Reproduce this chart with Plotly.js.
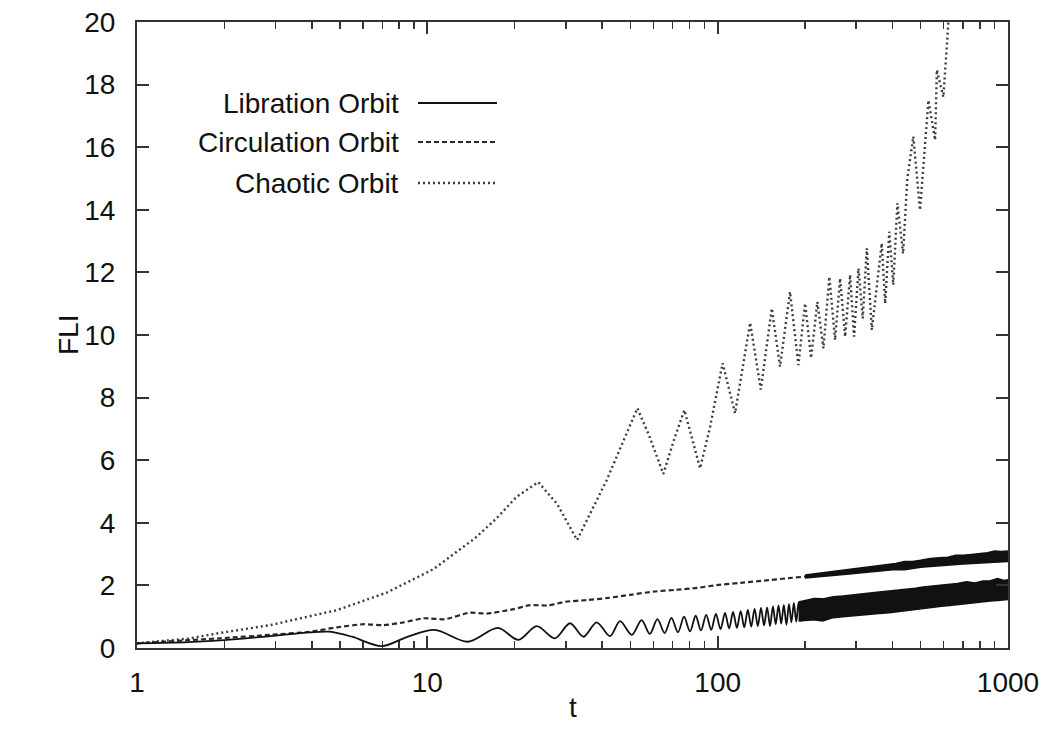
<!DOCTYPE html>
<html>
<head>
<meta charset="utf-8">
<script src="https://cdn.plot.ly/plotly-3.0.1.min.js"></script>
<style>html,body{margin:0;padding:0;background:#fff;}#chart{width:1048px;height:740px;}</style>
</head>
<body>
<div id="chart"></div>
<script>
// ---- Data ----
const seriesNames = ["Libration Orbit", "Circulation Orbit", "Chaotic Orbit"];

// Libration orbit: resolved oscillations (extrema)
const librationT = [1,1.5,2,2.87,3.94,4.6,5.5,6.97,8.5,10.6,13.8,17.5,20.6,23.8,27.5,31,34.5,38.3,42.6,46.1,50.6,54.7,58.4,62,65.7,69.3,73,76.6,80.3,84,87.6,91.3,95,98.6,102.3,106,109.5,113,116.5,120,123.5,127,130.5,134,137.5,141,144.5,148,151.5,155,158.5,162,165.5,169,172.5,176,179.5,183,186.5,190,193.5,197];
const librationV = [0.15,0.19,0.25,0.38,0.50,0.52,0.36,0.06,0.35,0.58,0.20,0.64,0.26,0.70,0.31,0.79,0.36,0.82,0.38,0.86,0.42,0.89,0.45,0.92,0.48,0.96,0.50,1.00,0.53,1.03,0.56,1.06,0.58,1.09,0.60,1.12,0.62,1.15,0.64,1.18,0.66,1.22,0.68,1.25,0.70,1.28,0.72,1.30,0.70,1.33,0.76,1.36,0.78,1.38,0.74,1.41,0.82,1.44,0.84,1.46,0.86,1.49];
// Libration orbit: dense oscillation band (lower / upper envelope)
const librationBandT = [190,200,215,230,250,270,290,310,335,360,390,420,450,480,510,550,590,630,670,720,770,820,870,920,970,1000];
const librationBandLo = [0.86,0.88,0.90,0.86,0.97,1.00,1.02,1.05,1.08,1.10,1.13,1.17,1.20,1.23,1.26,1.30,1.33,1.36,1.39,1.42,1.45,1.47,1.50,1.52,1.54,1.55];
const librationBandHi = [1.47,1.52,1.58,1.57,1.64,1.66,1.70,1.72,1.76,1.79,1.82,1.86,1.88,1.91,1.95,1.98,2.00,2.03,2.06,2.12,2.08,2.14,2.15,2.22,2.16,2.18];

// Circulation orbit: resolved line
const circulationT = [1,1.93,2.87,3.94,4.88,6.04,7.08,8.3,9.72,11.5,14,16,19.8,22.6,26,30,35.4,42,50,60,72,85,99.3,120,150,175,200,215];
const circulationV = [0.15,0.31,0.42,0.52,0.66,0.76,0.73,0.82,0.95,0.92,1.13,1.10,1.24,1.37,1.36,1.48,1.53,1.60,1.70,1.80,1.86,1.92,2.01,2.08,2.17,2.23,2.28,2.30];
// Circulation orbit: dense band
const circulationBandT = [200,230,260,290,320,350,380,410,440,470,500,540,580,620,660,700,750,800,850,900,950,1000];
const circulationBandLo = [2.24,2.28,2.33,2.37,2.41,2.45,2.48,2.51,2.50,2.55,2.58,2.60,2.62,2.64,2.64,2.68,2.70,2.71,2.73,2.72,2.75,2.76];
const circulationBandHi = [2.33,2.40,2.46,2.52,2.56,2.61,2.66,2.70,2.76,2.76,2.80,2.86,2.88,2.90,2.96,2.96,2.99,3.02,3.04,3.10,3.08,3.10];

// Chaotic orbit
const chaoticT = [1,1.5,1.93,2.87,4.88,7.25,10.5,14.6,17.3,20.3,24.1,28,32.8,41.5,52.9,58,65,71,76.8,87,94.2,104,114.8,129.4,140.8,153.6,164,177.5,189.7,200,209.8,220.5,231.3,242.5,253.7,264,274.8,285.8,295,305.5,316,326.4,339.6,352,367.4,377.6,390,402.6,415.9,435,450,472,497.7,532,561,568.8,598.9,623,660];
const chaoticV = [0.15,0.30,0.48,0.73,1.21,1.77,2.52,3.51,4.14,4.83,5.30,4.60,3.45,5.37,7.66,6.80,5.56,6.70,7.60,5.74,7.07,9.10,7.50,10.39,8.26,10.85,8.99,11.38,9.04,11.01,9.26,11.06,9.57,11.86,9.84,11.81,9.95,11.92,9.95,12.13,10.53,12.77,10.16,11.50,12.93,11.01,13.30,11.60,14.21,12.60,15.00,16.34,13.99,17.50,16.23,18.47,17.60,19.96,21.50];

const xTickVals = [1, 10, 100, 1000];
const xTickText = ["1", "10", "100", "1000"];
const xMinorTickVals = [2,3,4,5,6,7,8,9,20,30,40,50,60,70,80,90,200,300,400,500,600,700,800,900];
const yTickVals = [0, 2, 4, 6, 8, 10, 12, 14, 16, 18, 20];

// ---- Styles ----
const FONT = "Liberation Sans, Arial, Helvetica, sans-serif";
const libColor = "#111111", circColor = "#2a2a2a", chaosColor = "#3c3c3c";
const libDash = "solid", circDash = "5px,3px", chaosDash = "2px,3px";

const traces = [
  {x: chaoticT, y: chaoticV, mode: "lines", name: seriesNames[2], showlegend: false,
   line: {color: chaosColor, width: 2.4, dash: chaosDash}},
  {x: circulationT, y: circulationV, mode: "lines", name: seriesNames[1], showlegend: false,
   line: {color: circColor, width: 2.2, dash: circDash, shape: "spline", smoothing: 0.6}},
  {x: circulationBandT, y: circulationBandLo, mode: "lines", showlegend: false, hoverinfo: "skip",
   line: {color: "#111", width: 1.5}},
  {x: circulationBandT, y: circulationBandHi, mode: "lines", showlegend: false, hoverinfo: "skip",
   fill: "tonexty", fillcolor: "#111", line: {color: "#111", width: 1.5}},
  {x: librationT, y: librationV, mode: "lines", name: seriesNames[0], showlegend: false,
   line: {color: libColor, width: 1.8, dash: libDash, shape: "spline", smoothing: 0.9}},
  {x: librationBandT, y: librationBandLo, mode: "lines", showlegend: false, hoverinfo: "skip",
   line: {color: "#111", width: 1.5}},
  {x: librationBandT, y: librationBandHi, mode: "lines", showlegend: false, hoverinfo: "skip",
   fill: "tonexty", fillcolor: "#111", line: {color: "#111", width: 1.5}}
];

// Legend drawn with text on the left and line sample on the right (gnuplot style)
const legendY = [0.8706, 0.8083, 0.7428];
const legendStyles = [
  {color: libColor, dash: libDash, width: 2},
  {color: circColor, dash: circDash, width: 2},
  {color: chaosColor, dash: chaosDash, width: 2.4}
];
const annotations = seriesNames.map((n, i) => ({
  text: n, xref: "paper", yref: "paper", x: 0.3031, y: legendY[i],
  xanchor: "right", yanchor: "middle", showarrow: false,
  font: {family: FONT, size: 28, color: "#111"}
}));
annotations.push({
  text: "FLI", xref: "paper", yref: "paper", x: -0.0792, y: 0.5, textangle: -90,
  xanchor: "center", yanchor: "middle", showarrow: false,
  font: {family: FONT, size: 28, color: "#111"}
});
annotations.push({
  text: "t", xref: "paper", yref: "paper", x: 0.5, y: -0.0958,
  xanchor: "center", yanchor: "middle", showarrow: false,
  font: {family: FONT, size: 28, color: "#111"}
});
const shapes = seriesNames.map((n, i) => ({
  type: "line", xref: "paper", yref: "paper", x0: 0.3226, x1: 0.4133, y0: legendY[i], y1: legendY[i],
  line: legendStyles[i]
}));

const axisCommon = {
  showline: true, linecolor: "#333", linewidth: 2, mirror: "allticks",
  ticks: "inside", ticklen: 12, tickwidth: 2, tickcolor: "#333",
  showgrid: false, zeroline: false,
  tickfont: {family: FONT, size: 28, color: "#111"}
};

const layout = {
  width: 1048, height: 740,
  margin: {l: 137, r: 40, t: 22, b: 92},
  paper_bgcolor: "#fff", plot_bgcolor: "#fff",
  showlegend: false,
  xaxis: Object.assign({}, axisCommon, {
    type: "log", range: [0, 3], tickvals: xTickVals, ticktext: xTickText,
    ticklabelstandoff: 8,
    minor: {ticks: "inside", ticklen: 7, tickwidth: 1.5, tickcolor: "#333", showgrid: false, tickvals: xMinorTickVals}
  }),
  yaxis: Object.assign({}, axisCommon, {
    range: [0, 20], tickvals: yTickVals,
    ticklabelstandoff: 14
  }),
  annotations: annotations,
  shapes: shapes
};

Plotly.newPlot("chart", traces, layout, {staticPlot: true, displayModeBar: false});
</script>
</body>
</html>
